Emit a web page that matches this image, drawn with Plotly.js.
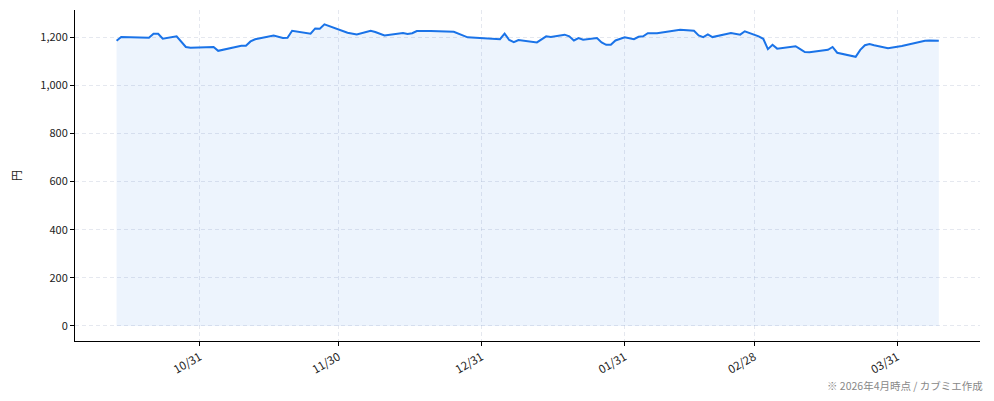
<!DOCTYPE html>
<html>
<head>
<meta charset="utf-8">
<script src="https://cdn.plot.ly/plotly-3.0.1.min.js"></script>
<style>
  html, body { margin: 0; padding: 0; background: #fff; }
  #chart { width: 994px; height: 401px; }
</style>
</head>
<body>
<div id="chart"></div>
<script>
// daily close (円)
const dates = [
  "2025-10-13","2025-10-14","2025-10-20","2025-10-21","2025-10-22","2025-10-23",
  "2025-10-26","2025-10-28","2025-10-29","2025-11-03","2025-11-04","2025-11-09",
  "2025-11-10","2025-11-11","2025-11-12","2025-11-16","2025-11-18","2025-11-19",
  "2025-11-20","2025-11-24","2025-11-25","2025-11-26","2025-11-27","2025-11-30",
  "2025-12-02","2025-12-04","2025-12-07","2025-12-08","2025-12-10","2025-12-14",
  "2025-12-15","2025-12-16","2025-12-17","2025-12-20","2025-12-25","2025-12-28",
  "2026-01-04","2026-01-05","2026-01-06","2026-01-07","2026-01-08","2026-01-12",
  "2026-01-14","2026-01-15","2026-01-18","2026-01-19","2026-01-20","2026-01-21",
  "2026-01-22","2026-01-25","2026-01-26","2026-01-27","2026-01-28","2026-01-29",
  "2026-01-31","2026-02-02","2026-02-03","2026-02-04","2026-02-05","2026-02-07",
  "2026-02-10","2026-02-12","2026-02-15","2026-02-16","2026-02-17","2026-02-18",
  "2026-02-19","2026-02-23","2026-02-25","2026-02-26","2026-03-01","2026-03-02",
  "2026-03-03","2026-03-04","2026-03-05","2026-03-09","2026-03-10","2026-03-11",
  "2026-03-12","2026-03-16","2026-03-17","2026-03-18","2026-03-22","2026-03-23",
  "2026-03-24","2026-03-25","2026-03-26","2026-03-29","2026-04-01","2026-04-06",
  "2026-04-07","2026-04-09"
];

const prices = [
  1185,1200,1197,1214,1214,1193,
  1203,1159,1156,1159,1143,1164,
  1164,1182,1191,1206,1196,1197,
  1226,1214,1236,1235,1253,1233,
  1218,1211,1226,1221,1207,1217,
  1213,1216,1225,1225,1222,1199,
  1191,1214,1188,1179,1188,1178,
  1203,1200,1210,1203,1186,1196,
  1189,1196,1178,1168,1168,1186,
  1199,1191,1201,1203,1216,1216,
  1224,1230,1226,1207,1200,1211,
  1200,1217,1210,1224,1203,1193,
  1150,1168,1152,1162,1150,1138,
  1137,1147,1159,1135,1118,1147,
  1166,1171,1166,1154,1163,1185,
  1186,1185
];

const tickDates = ["2025-10-31","2025-11-30","2025-12-31","2026-01-31","2026-02-28","2026-03-31"];
const tickLabels = ["10/31","11/30","12/31","01/31","02/28","03/31"];
const yTicks = [0, 200, 400, 600, 800, 1000, 1200];

const FONT = "'Noto Sans CJK JP', 'Noto Sans', sans-serif";
const GRID = "rgba(180,190,210,0.35)";

const trace = {
  x: dates,
  y: prices,
  mode: "lines",
  fill: "tozeroy",
  fillcolor: "rgba(26,115,232,0.08)",
  line: { color: "#1a73e8", width: 2 },
  hoverinfo: "x+y"
};

const layout = {
  width: 994,
  height: 401,
  margin: { l: 75, r: 14, t: 10, b: 60 },
  paper_bgcolor: "#fff",
  plot_bgcolor: "#fff",
  showlegend: false,
  font: { family: FONT, size: 11, color: "#222" },

  xaxis: {
    type: "date",
    range: ["2025-10-04", "2026-04-17 22:00"],
    tickvals: tickDates,
    ticktext: tickLabels,
    tickangle: -30,
    ticks: "outside",
    ticklen: 4,
    tickcolor: "#000",
    showline: true,
    linecolor: "#000",
    linewidth: 1,
    showgrid: true,
    gridcolor: GRID,
    griddash: "4px,3px",
    zeroline: false,
    tickfont: { family: FONT, size: 11.5, color: "#222" }
  },

  yaxis: {
    range: [-62.5, 1312.5],
    tickvals: yTicks,
    tickformat: ",d",
    ticks: "outside",
    ticklen: 4,
    tickcolor: "#000",
    showline: true,
    linecolor: "#000",
    linewidth: 1,
    showgrid: true,
    gridcolor: GRID,
    griddash: "4px,3px",
    zeroline: false,
    title: { text: "円", font: { family: FONT, size: 11, color: "#222" }, standoff: 16 },
    tickfont: { family: FONT, size: 11, color: "#222" }
  },

  annotations: [{
    text: "※ 2026年4月時点 / カブミエ作成",
    xref: "paper", yref: "paper",
    x: 1.005, y: -0.105,
    xanchor: "right", yanchor: "top",
    showarrow: false,
    font: { family: FONT, size: 10.5, color: "#888" }
  }]
};

Plotly.newPlot("chart", [trace], layout, { displayModeBar: false, staticPlot: true });
</script>
</body>
</html>
